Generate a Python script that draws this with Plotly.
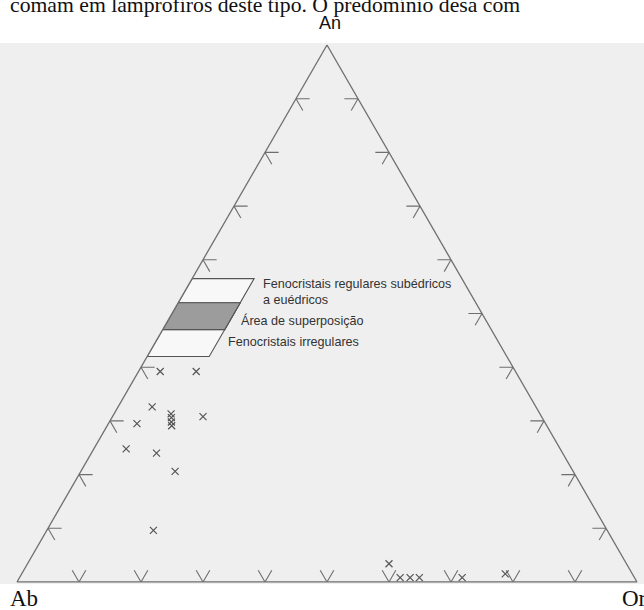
import plotly.graph_objects as go

# ---------------- data (percent) ----------------
an_pct = [39.2, 39.2, 32.6, 31.3, 30.6, 29.8, 29.1, 30.8, 29.5, 24.8, 24.0, 20.6, 9.6,
          3.4, 0.8, 0.8, 0.8, 0.8, 1.5]
or_pct = [3.5, 9.3, 5.5, 9.2, 9.6, 10.0, 10.4, 14.6, 4.6, 5.2, 10.5, 15.2, 17.2,
          58.3, 61.4, 63.0, 64.5, 71.4, 78.0]
ab_pct = [100 - a - o for a, o in zip(an_pct, or_pct)]

# Fields (An ranges, Or from 0 to or_width)
regular_an = [47.0, 56.5]
irregular_an = [42.0, 52.0]
overlap_an = [47.0, 52.0]
or_width = 10.0

tick_values = [10, 20, 30, 40, 50, 60, 70, 80, 90]
stub = 2.2

line_col = "#6e6e6e"

fig = go.Figure()

# ---------- tick stubs (grid-line starts) ----------
ta, tb, tc = [], [], []
def seg(p, q):
    ta.extend([p[0], q[0], None]); tb.extend([p[1], q[1], None]); tc.extend([p[2], q[2], None])
for t in tick_values:
    # left edge (Or = 0)
    seg((t, 100 - t, 0), (t, 100 - t - stub, stub))
    seg((t, 100 - t, 0), (t - stub, 100 - t, stub))
    # base (An = 0)
    seg((0, 100 - t, t), (stub, 100 - t, t - stub))
    seg((0, 100 - t, t), (stub, 100 - t - stub, t))
    # right edge (Ab = 0)
    seg((t, 0, 100 - t), (t, stub, 100 - t - stub))
    seg((t, 0, 100 - t), (t - stub, stub, 100 - t))

fig.add_trace(go.Scatterternary(a=ta, b=tb, c=tc, mode="lines",
                                line=dict(color=line_col, width=1.1),
                                hoverinfo="skip", showlegend=False))

# ---------- fields ----------
def field(an_rng, fill):
    lo, hi = an_rng
    a = [hi, hi, lo, lo, hi]
    c = [0, or_width, or_width, 0, 0]
    b = [100 - x - y for x, y in zip(a, c)]
    fig.add_trace(go.Scatterternary(a=a, b=b, c=c, mode="lines", fill="toself",
                                    fillcolor=fill, line=dict(color="#555555", width=1.1),
                                    hoverinfo="skip", showlegend=False))

field(regular_an, "rgba(255,255,255,0.55)")
field(irregular_an, "rgba(255,255,255,0.55)")
field(overlap_an, "#9c9c9c")

# ---------- samples ----------
fig.add_trace(go.Scatterternary(a=an_pct, b=ab_pct, c=or_pct, mode="markers",
                                marker=dict(symbol="x-thin", size=7,
                                            line=dict(color="#555555", width=1.2)),
                                hoverinfo="skip", showlegend=False))

# ---------- layout ----------
L, R, T = 17, 7, 45
W = 644 - L - R
H = 537
B = 610 - T - H

def px(x):
    return (x - L) / W
def py(y):
    return (610 - B - y) / H

axis_common = dict(showticklabels=False, ticks="", showgrid=False, linecolor=line_col,
                   linewidth=1.3, title=dict(text=""))

fig.update_layout(
    width=644, height=610,
    margin=dict(l=L, r=R, t=T, b=B, pad=0),
    paper_bgcolor="white",
    showlegend=False,
    ternary=dict(sum=100, bgcolor="rgba(0,0,0,0)",
                 domain=dict(x=[0, 1], y=[0, 1]),
                 aaxis=axis_common, baxis=axis_common, caxis=axis_common),
    shapes=[dict(type="rect", xref="paper", yref="paper", layer="below",
                 x0=px(0), x1=px(644), y0=py(584), y1=py(43),
                 fillcolor="#efefef", line=dict(width=0))],
)

sans = "Liberation Sans, Arial, sans-serif"
serif = "Liberation Serif, Times New Roman, serif"
lab = dict(family=sans, size=12.6, color="#333")
ann = [
    dict(text="comam em lamprofiros deste tipo. O predomínio desa com", x=px(8), y=py(19),
         xanchor="left", yanchor="bottom", font=dict(family=serif, size=21.7, color="#111")),
    dict(text="An", x=px(330), y=py(23), xanchor="center", yanchor="middle",
         font=dict(family=sans, size=18, color="#111")),
    dict(text="Ab", x=px(8), y=py(598), xanchor="left", yanchor="middle",
         font=dict(family=serif, size=23, color="#111")),
    dict(text="Or", x=px(620), y=py(598), xanchor="left", yanchor="middle",
         font=dict(family=serif, size=23, color="#111")),
    dict(text="Fenocristais regulares subédricos<br>a euédricos", x=px(261), y=py(291.5),
         xanchor="left", yanchor="middle", align="left", font=lab),
    dict(text="Área de superposição", x=px(239), y=py(320), xanchor="left", yanchor="middle",
         font=lab),
    dict(text="Fenocristais irregulares", x=px(226), y=py(342), xanchor="left", yanchor="middle",
         font=lab),
]
for a in ann:
    a.update(xref="paper", yref="paper", showarrow=False)
fig.update_layout(annotations=ann)

fig.write_html("out.html")
